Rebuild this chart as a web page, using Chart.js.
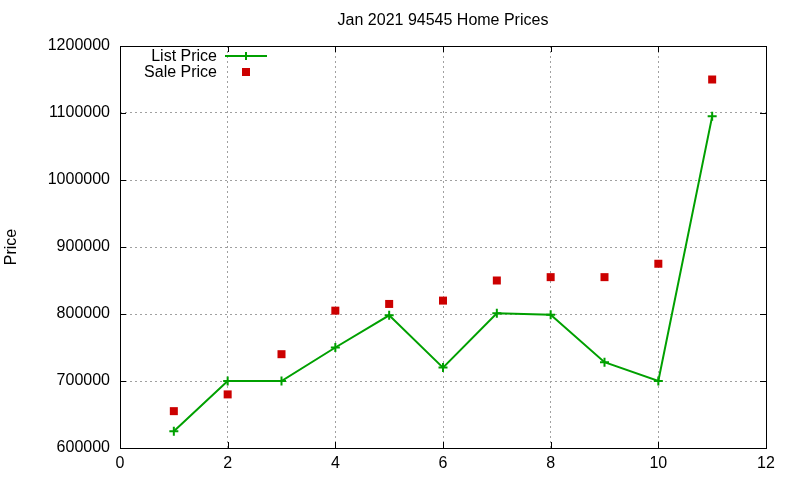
<!DOCTYPE html>
<html>
<head>
<meta charset="utf-8">
<title>Jan 2021 94545 Home Prices</title>
<script src="https://cdn.jsdelivr.net/npm/chart.js@4/dist/chart.umd.min.js"></script>
<style>
  html, body { margin: 0; padding: 0; background: #fff; }
  #wrap { width: 800px; height: 480px; }
</style>
</head>
<body>
<div id="wrap"><canvas id="myChart" width="800" height="480"></canvas></div>
<script>
// values
const months = [1, 2, 3, 4, 5, 6, 7, 8, 9, 10, 11];
const listPrice = [625000, 700000, 700000, 750000, 798000, 720000, 801000, 799000, 728000, 700000, 1095000];
const salePrice = [655000, 680000, 740000, 805000, 815000, 820000, 850000, 855000, 855000, 875000, 1150000];
const xTicks = [0, 2, 4, 6, 8, 10, 12];
const yTicks = [600000, 700000, 800000, 900000, 1000000, 1100000, 1200000];

const FONT = 'Liberation Sans, Arial, sans-serif';
const GREEN = '#00a000';
const RED = '#cc0000';

function toPoints(xs, ys) {
    let pts = [];
    for (let i = 0; i < xs.length; i++) {
        pts.push({x: xs[i], y: ys[i]});
    }
    return pts;
}

// border box, inward ticks on all four sides, title and legend, gnuplot style
const gnuplotFrame = {
    id: 'gnuplotFrame',
    afterDraw(chart) {
        const ctx = chart.ctx;
        const a = chart.chartArea;
        const xs = chart.scales.x;
        const ys = chart.scales.y;
        const tl = 6;
        ctx.save();
        ctx.strokeStyle = '#000';
        ctx.lineWidth = 1;
        ctx.beginPath();
        xTicks.forEach(v => {
            const px = Math.round(xs.getPixelForValue(v)) + 0.5;
            ctx.moveTo(px, a.bottom); ctx.lineTo(px, a.bottom - tl);
            ctx.moveTo(px, a.top); ctx.lineTo(px, a.top + tl);
        });
        yTicks.forEach(v => {
            const py = Math.round(ys.getPixelForValue(v)) + 0.5;
            ctx.moveTo(a.left, py); ctx.lineTo(a.left + tl, py);
            ctx.moveTo(a.right, py); ctx.lineTo(a.right - tl, py);
        });
        ctx.stroke();
        ctx.strokeRect(Math.round(a.left) + 0.5, Math.round(a.top) + 0.5,
            Math.round(a.right - a.left), Math.round(a.bottom - a.top));

        // title
        ctx.fillStyle = '#000';
        ctx.font = '16px ' + FONT;
        ctx.textAlign = 'center';
        ctx.textBaseline = 'middle';
        ctx.fillText('Jan 2021 94545 Home Prices', (a.left + a.right) / 2, 21);

        // legend
        ctx.textAlign = 'right';
        ctx.fillText('List Price', 217, 57);
        ctx.fillText('Sale Price', 217, 73);
        ctx.strokeStyle = GREEN;
        ctx.lineWidth = 2;
        ctx.beginPath();
        ctx.moveTo(225, 56); ctx.lineTo(267, 56);
        ctx.moveTo(246, 52); ctx.lineTo(246, 60);
        ctx.stroke();
        ctx.fillStyle = RED;
        ctx.fillRect(242, 68, 8, 8);
        ctx.restore();
    }
};

const ctx = document.getElementById('myChart');
new Chart(ctx, {
    type: 'scatter',
    data: {
        datasets: [{
            label: 'List Price',
            data: toPoints(months, listPrice),
            showLine: true,
            borderColor: GREEN,
            backgroundColor: GREEN,
            borderWidth: 2,
            pointStyle: 'cross',
            pointRadius: 4.5,
            pointBorderWidth: 2,
            pointHoverRadius: 4.5,
            order: 1
        }, {
            label: 'Sale Price',
            data: toPoints(months, salePrice),
            showLine: false,
            borderColor: RED,
            backgroundColor: RED,
            pointStyle: 'rect',
            pointRadius: 5.66,
            pointBorderWidth: 0,
            pointHoverRadius: 5.66,
            order: 2
        }]
    },
    options: {
        responsive: false,
        animation: false,
        events: [],
        layout: {padding: {top: 46, right: 34, bottom: 0, left: 0}},
        plugins: {
            legend: {display: false},
            title: {display: false},
            tooltip: {enabled: false}
        },
        scales: {
            x: {
                type: 'linear',
                min: 0,
                max: 12,
                afterBuildTicks: scale => { scale.ticks = xTicks.map(v => ({value: v})); },
                afterFit: scale => { scale.height = 32; },
                grid: {color: '#a0a0a0', drawTicks: false, lineWidth: 1},
                border: {display: false, dash: [2, 3]},
                ticks: {color: '#000', font: {family: FONT, size: 16}, padding: 6, maxRotation: 0}
            },
            y: {
                type: 'linear',
                min: 600000,
                max: 1200000,
                afterBuildTicks: scale => { scale.ticks = yTicks.map(v => ({value: v})); },
                afterFit: scale => { scale.width = 120; },
                grid: {color: '#a0a0a0', drawTicks: false, lineWidth: 1},
                border: {display: false, dash: [2, 3]},
                ticks: {color: '#000', font: {family: FONT, size: 16}, padding: 10,
                    callback: v => String(v)},
                title: {display: true, text: 'Price', color: '#000',
                    font: {family: FONT, size: 16}, padding: 2}
            }
        }
    },
    plugins: [gnuplotFrame]
});
</script>
</body>
</html>
